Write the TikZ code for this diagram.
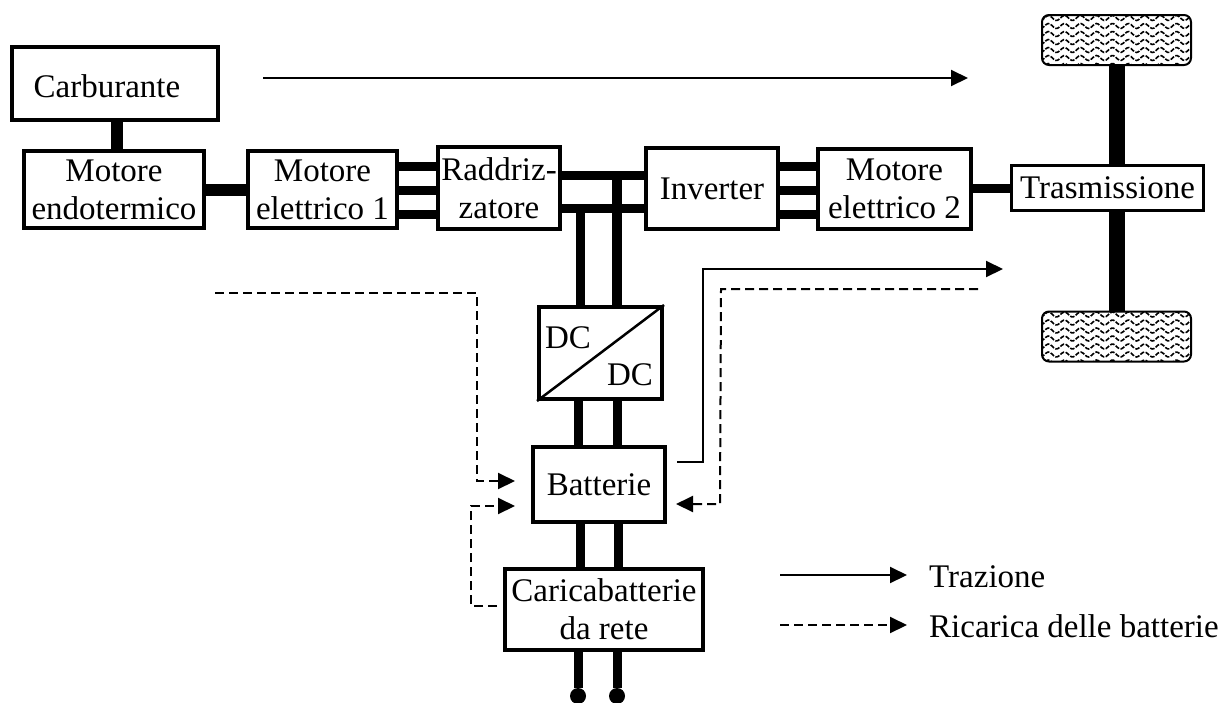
\documentclass[tikz,border=0pt]{standalone}
\usepackage{fontspec}
\setmainfont{Liberation Serif}
\usetikzlibrary{arrows.meta,calc}
\tikzset{
  box/.style={draw=black,fill=white,line width=4pt,inner sep=0pt,align=center,font=\fontsize{33}{38}\selectfont},
  bar/.style={line width=9pt,draw=black},
  flow/.style={line width=2pt,draw=black,-{Triangle[length=17pt,width=16pt]}},
  flowd/.style={flow,dash pattern=on 9pt off 5pt},
  lbl/.style={inner sep=0pt,font=\fontsize{33}{38}\selectfont},
  wheel/.style={draw=black,line width=2pt,rounded corners=7pt,fill=white,minimum width=149pt,minimum height=50pt,inner sep=0pt},
  plug/.style={circle,fill=black,inner sep=0pt,minimum size=16pt}
}
\begin{document}
\begin{tikzpicture}[x=1pt,y=-1pt]
\clip (0,0) rectangle (1231,702);
\fill[white] (0,0) rectangle (1231,702);
% boxes
\node[box,minimum width=206pt,minimum height=73pt] (carb) at (115,83.5) {};
\node[lbl] (carbt) at (107,86) {Carburante};
\node[box,minimum width=180pt,minimum height=77pt] (endo) at (114,189.5) {Motore\\endotermico};
\node[box,minimum width=149pt,minimum height=77pt] (el1) at (322.5,189.5) {Motore\\elettrico 1};
\node[box,minimum width=122pt,minimum height=82pt] (rad) at (499,188) {Raddriz-\\zatore};
\node[box,minimum width=132pt,minimum height=81pt] (inv) at (712,188.5) {Inverter};
\node[box,minimum width=153pt,minimum height=80pt] (el2) at (894.5,189) {Motore\\elettrico 2};
\node[box,line width=3pt,minimum width=192pt,minimum height=45pt] (tra) at (1107.5,188) {Trasmissione};
\node[box,minimum width=123pt,minimum height=92pt] (dc) at (600.5,353) {};
\node[box,minimum width=132pt,minimum height=75pt] (bat) at (599,484.5) {Batterie};
\node[box,minimum width=198pt,minimum height=81pt] (car) at (604,609.5) {Caricabatterie\\da rete};
\node[lbl] (dc1) at (568,338) {DC};
\node[lbl] (dc2) at (630,375) {DC};
\draw[line width=2.5pt] (dc.south west) -- (dc.north east);
% wheels
\node[wheel] (wt) at (1116.5,40) {};
\node[wheel] (wb) at (1116.5,336.5) {};
\foreach \w in {wt,wb}{
  \begin{scope}
    \clip[rounded corners=7pt] ($(\w.south west)+(1,-1)$) rectangle ($(\w.north east)+(-1,1)$);
    \foreach \r in {-22,-14,...,26}{
      \draw[line width=1.6pt,dash pattern=on 4.5pt off 1.5pt,black,shift={(\w.center)}]
        plot[domain=-76:76,samples=80,smooth] (\x,{\r+2.5*sin(\x*22.5)});
    }
  \end{scope}
}
% thick connectors
\coordinate (y1) at (0,166);
\coordinate (y2) at (0,190);
\coordinate (y3) at (0,214);
\coordinate (y4) at (0,175);
\coordinate (y5) at (0,208);
\draw[line width=12pt] (carb.south) ++(2,0) coordinate (c1) -- (c1 |- endo.north);
\draw[line width=12pt] (endo.east) -- (el1.west);
\foreach \k in {y1,y2,y3}{
  \draw[bar] (el1.east |- \k) -- (rad.west |- \k);
  \draw[bar] (inv.east |- \k) -- (el2.west |- \k);
}
\draw[bar] (rad.east |- y4) -- (inv.west |- y4);
\draw[bar] (rad.east |- y5) -- (inv.west |- y5);
\draw[line width=10pt] ([xshift=16.5pt]dc.north) coordinate (d2) -- (d2 |- y4);
\draw[bar] ([xshift=-20.5pt]dc.north) coordinate (d1) -- (d1 |- y5);
\draw[bar] (el2.east) ++(0,-1) coordinate (e2) -- (e2 -| tra.west);
\draw[line width=16pt] (wt.south) -- (tra.north -| wt.south);
\draw[line width=16pt] (wb.north) -- (tra.south -| wb.north);
\draw[bar] ([xshift=-21pt]bat.north) coordinate (b1) -- (b1 |- dc.south);
\draw[bar] ([xshift=18pt]bat.north) coordinate (b2) -- (b2 |- dc.south);
\draw[bar] ([xshift=-19pt]bat.south) coordinate (b3) -- (b3 |- car.north);
\draw[bar] ([xshift=19pt]bat.south) coordinate (b4) -- (b4 |- car.north);
\node[plug] (p1) at (578,696) {};
\node[plug] (p2) at (617,696) {};
\draw[bar] (p1) -- (p1 |- car.south);
\draw[bar] (p2) -- (p2 |- car.south);
% flow arrows
\coordinate (a1s) at (263,78);
\coordinate (a1e) at (968,78);
\draw[flow] (a1s) -- (a1e);
\coordinate (a2s) at (677,462);
\coordinate (a2e) at (1003,269);
\draw[flow] (a2s) -- (703,462) -- (703,269) -- (a2e);
\coordinate (a3s) at (978,289);
\coordinate (a3e) at (676,504);
\draw[flowd] (a3s) -- (721,289) -- (720,504) -- (a3e);
\coordinate (a4s) at (215,293);
\coordinate (a4e) at (515,481);
\draw[flowd] (a4s) -- (477,293) -- (477,481) -- (a4e);
\coordinate (a5s) at (497,606);
\coordinate (a5e) at (515,506);
\draw[flowd] (a5s) -- (471,606) -- (471,506) -- (a5e);
% legend
\coordinate (l1s) at (780,575);
\coordinate (l1e) at (907,575);
\coordinate (l2s) at (780,625);
\coordinate (l2e) at (907,625);
\draw[flow] (l1s) -- (l1e);
\draw[flowd] (l2s) -- (l2e);
\node[lbl,anchor=base west] (t1) at (929,587) {Trazione};
\node[lbl,anchor=base west] (t2) at (929,637) {Ricarica delle batterie};
\end{tikzpicture}
\end{document}
